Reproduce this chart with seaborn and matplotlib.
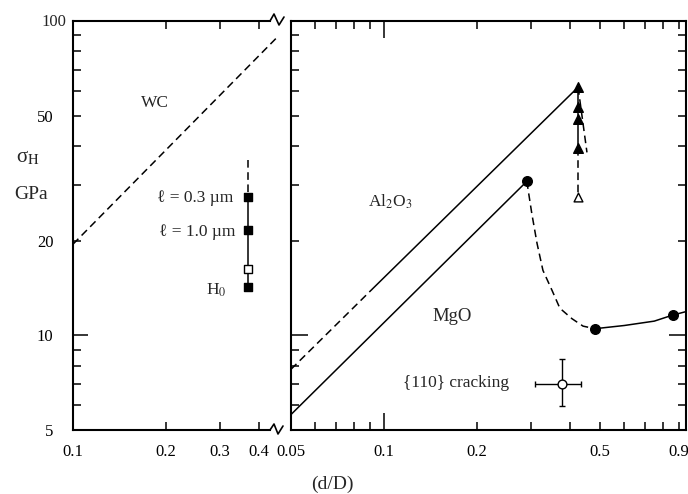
import numpy as np
import pandas as pd
import matplotlib
matplotlib.use("Agg")
import matplotlib.pyplot as plt
import matplotlib.ticker as mticker
from matplotlib.lines import Line2D
import seaborn as sns

# ---------------- data ----------------
# left panel: WC
wc_x = [0.1, 0.46]
wc_y = [19.5, 89.0]
ell_x = 0.37
ell_dash_y = [36.0, 27.5]
ell_solid_y = [27.5, 21.6, 16.3, 14.3]
ell_filled_y = [27.5, 21.6, 14.3]
ell_open_y = [16.3]

# right panel: Al2O3
al_dash_x = [0.05, 0.0914]
al_dash_y = [7.8, 14.0]
al_solid_x = [0.0914, 0.425]
al_solid_y = [14.0, 61.6]
tri_x = 0.425
tri_filled_y = [61.6, 53.2, 48.7, 39.4]
tri_open_y = [27.5]
tri_dash_y = [39.4, 27.5]
tri_slant_x = [0.425, 0.454]
tri_slant_y = [61.6, 38.2]

# right panel: MgO
mgo_x = [0.05, 0.29]
mgo_y = [5.6, 30.9]
mgo_curve_x = [0.29, 0.301, 0.313, 0.327, 0.350, 0.371, 0.406, 0.441, 0.482]
mgo_curve_y = [30.9, 24.4, 19.6, 16.1, 13.9, 12.2, 11.3, 10.7, 10.5]
mgo_right_x = [0.482, 0.60, 0.75, 0.86, 0.95]
mgo_right_y = [10.5, 10.75, 11.1, 11.6, 11.9]
mgo_pts_x = [0.29, 0.482, 0.86]
mgo_pts_y = [30.9, 10.5, 11.6]

# {110} cracking point
crack_x = 0.377
crack_y = 7.0
crack_x_lo, crack_x_hi = 0.308, 0.435
crack_y_lo, crack_y_hi = 5.97, 8.4

# ticks
y_minor = [5, 6, 7, 8, 9, 20, 30, 40, 50, 60, 70, 80, 90]
y_minor_labels = ["5", "", "", "", "", "20", "", "", "50", "", "", "", ""]
left_x_ticks = [0.1, 0.2, 0.3, 0.4]
left_x_labels = ["0.1", "0.2", "0.3", "0.4"]
right_x_minor = [0.05, 0.06, 0.07, 0.08, 0.09, 0.2, 0.3, 0.4, 0.5, 0.6, 0.7, 0.8, 0.9]
right_x_minor_labels = ["0.05", "", "", "", "", "0.2", "", "", "0.5", "", "", "", "0.9"]

# ---------------- style ----------------
sns.set_theme(style="white")
plt.rcParams['font.family'] = ['Liberation Serif', 'DejaVu Serif']
plt.rcParams['mathtext.fontset'] = 'stix'

W, H = 688, 494
fig = plt.figure(figsize=(W / 100, H / 100), dpi=100)
fig.patch.set_facecolor("white")

def fx(px):
    return px / W

def fy(py):
    return 1 - py / H

ax1 = fig.add_axes([fx(73), fy(430), (270 - 73) / W, (430 - 21) / H])
ax2 = fig.add_axes([fx(291), fy(430), (686 - 291) / W, (430 - 21) / H])

DASH = (0, (5, 3))
LW = 1.1

def line(ax, x, y, ls="-"):
    df = pd.DataFrame({"x": x, "y": y})
    sns.lineplot(data=df, x="x", y="y", ax=ax, estimator=None, sort=False,
                 color="black", linewidth=LW, linestyle=ls)

def pts(ax, x, y, marker, s, filled=True):
    df = pd.DataFrame({"x": x, "y": y})
    sns.scatterplot(data=df, x="x", y="y", ax=ax, marker=marker, s=s,
                    color="black" if filled else "white", edgecolor="black",
                    linewidth=1.0, zorder=5)

# ---- left panel ----
df_wc = pd.DataFrame({"x": wc_x, "y": wc_y})
sns.lineplot(data=df_wc, x="x", y="y", ax=ax1, estimator=None, sort=False,
             color="black", linewidth=LW, linestyle=DASH, clip_on=False)
line(ax1, [ell_x, ell_x], ell_dash_y, DASH)
line(ax1, [ell_x] * len(ell_solid_y), ell_solid_y)
pts(ax1, [ell_x] * len(ell_filled_y), ell_filled_y, "s", 26)
pts(ax1, [ell_x] * len(ell_open_y), ell_open_y, "s", 26, filled=False)

# ---- right panel ----
line(ax2, al_dash_x, al_dash_y, DASH)
line(ax2, al_solid_x, al_solid_y)
line(ax2, [tri_x] * len(tri_filled_y), tri_filled_y)
line(ax2, [tri_x, tri_x], tri_dash_y, DASH)
line(ax2, tri_slant_x, tri_slant_y, DASH)
pts(ax2, [tri_x] * len(tri_filled_y), tri_filled_y, "^", 48)
pts(ax2, [tri_x] * len(tri_open_y), tri_open_y, "^", 40, filled=False)

line(ax2, mgo_x, mgo_y)
line(ax2, mgo_curve_x, mgo_curve_y, DASH)
line(ax2, mgo_right_x, mgo_right_y)
pts(ax2, mgo_pts_x, mgo_pts_y, "o", 48)

ax2.errorbar([crack_x], [crack_y],
             xerr=[[crack_x - crack_x_lo], [crack_x_hi - crack_x]],
             yerr=[[crack_y - crack_y_lo], [crack_y_hi - crack_y]],
             fmt="none", ecolor="black", elinewidth=1.0, capsize=2.5, capthick=1.0)
pts(ax2, [crack_x], [crack_y], "o", 40, filled=False)

# ---- axes formatting ----
for ax in (ax1, ax2):
    ax.set_xscale("log")
    ax.set_yscale("log")
    ax.set_ylim(5, 100)
    ax.set_xlabel("")
    ax.set_ylabel("")
    ax.set_facecolor("white")
    for sp in ax.spines.values():
        sp.set_color("black")
        sp.set_linewidth(1.5)
    ax.yaxis.remove_overlapping_locs = False
    ax.xaxis.remove_overlapping_locs = False

ax1.set_xlim(0.1, 0.435)
ax2.set_xlim(0.05, 0.95)
ax1.spines["right"].set_visible(False)

# y ticks
for ax, lab in ((ax1, True), (ax2, False)):
    ax.yaxis.set_major_locator(mticker.FixedLocator([10]))
    ax.yaxis.set_minor_locator(mticker.FixedLocator(y_minor))
    if lab:
        ax.yaxis.set_major_formatter(mticker.FixedFormatter(["10"]))
        ax.yaxis.set_minor_formatter(mticker.FixedFormatter(y_minor_labels))
    else:
        ax.yaxis.set_major_formatter(mticker.NullFormatter())
        ax.yaxis.set_minor_formatter(mticker.NullFormatter())

# x ticks
ax1.xaxis.set_major_locator(mticker.FixedLocator(left_x_ticks))
ax1.xaxis.set_major_formatter(mticker.FixedFormatter(left_x_labels))
ax1.xaxis.set_minor_locator(mticker.NullLocator())

ax2.xaxis.set_major_locator(mticker.FixedLocator([0.1]))
ax2.xaxis.set_major_formatter(mticker.FixedFormatter(["0.1"]))
ax2.xaxis.set_minor_locator(mticker.FixedLocator(right_x_minor))
ax2.xaxis.set_minor_formatter(mticker.FixedFormatter(right_x_minor_labels))

TICKFS = 12
ax1.tick_params(axis="both", which="both", direction="in", color="black",
                width=1.1, labelsize=TICKFS, labelcolor="black",
                top=True, bottom=True, left=True, right=False)
ax1.tick_params(axis="y", which="both", pad=14)
ax1.tick_params(axis="x", which="both", pad=10)
ax1.tick_params(which="major", length=6)
ax1.tick_params(which="minor", length=6)
ax1.tick_params(axis="y", which="major", length=11)

ax2.tick_params(axis="both", which="both", direction="in", color="black",
                width=1.1, labelsize=TICKFS, labelcolor="black",
                top=True, bottom=True, left=True, right=True,
                labelleft=False, labelright=False, labeltop=False)
ax2.tick_params(axis="x", which="both", pad=10)
ax2.tick_params(which="major", length=12)
ax2.tick_params(which="minor", length=6)

# "100" label at the top corner
fig.text(fx(54), fy(22), "100", ha="center", va="center", fontsize=TICKFS)

# break marks
brk_top = [(264, 21), (270, 21), (274, 14), (279, 25), (284, 17)]
brk_bot = [(264, 430), (270, 430), (274, 424), (278, 434), (283, 426)]
for pts_ in (brk_top, brk_bot):
    xs = [fx(p[0]) for p in pts_]
    ys = [fy(p[1]) for p in pts_]
    fig.add_artist(Line2D(xs, ys, color="black", linewidth=1.2,
                          transform=fig.transFigure))

# annotations
TFS = 12.5
fig.text(fx(155), fy(103), "WC", ha="center", va="center", fontsize=TFS)
fig.text(fx(28), fy(158), "σ$_{\\mathrm{H}}$", ha="center", va="center", fontsize=15)
fig.text(fx(31), fy(194), "GPa", ha="center", va="center", fontsize=14)
fig.text(fx(233), fy(198), "ℓ = 0.3 µm", ha="right", va="center", fontsize=TFS)
fig.text(fx(235), fy(232), "ℓ = 1.0 µm", ha="right", va="center", fontsize=TFS)
fig.text(fx(216), fy(290), r"H$_0$", ha="center", va="center", fontsize=TFS)
fig.text(fx(390), fy(202), r"Al$_2$O$_3$", ha="center", va="center", fontsize=TFS)
fig.text(fx(452), fy(316), "MgO", ha="center", va="center", fontsize=13.5)
fig.text(fx(456), fy(383), "{110} cracking", ha="center", va="center", fontsize=TFS)
fig.text(fx(332), fy(484), "(d/D)", ha="center", va="center", fontsize=14)

fig.savefig("out.png", dpi=100, facecolor="white")
